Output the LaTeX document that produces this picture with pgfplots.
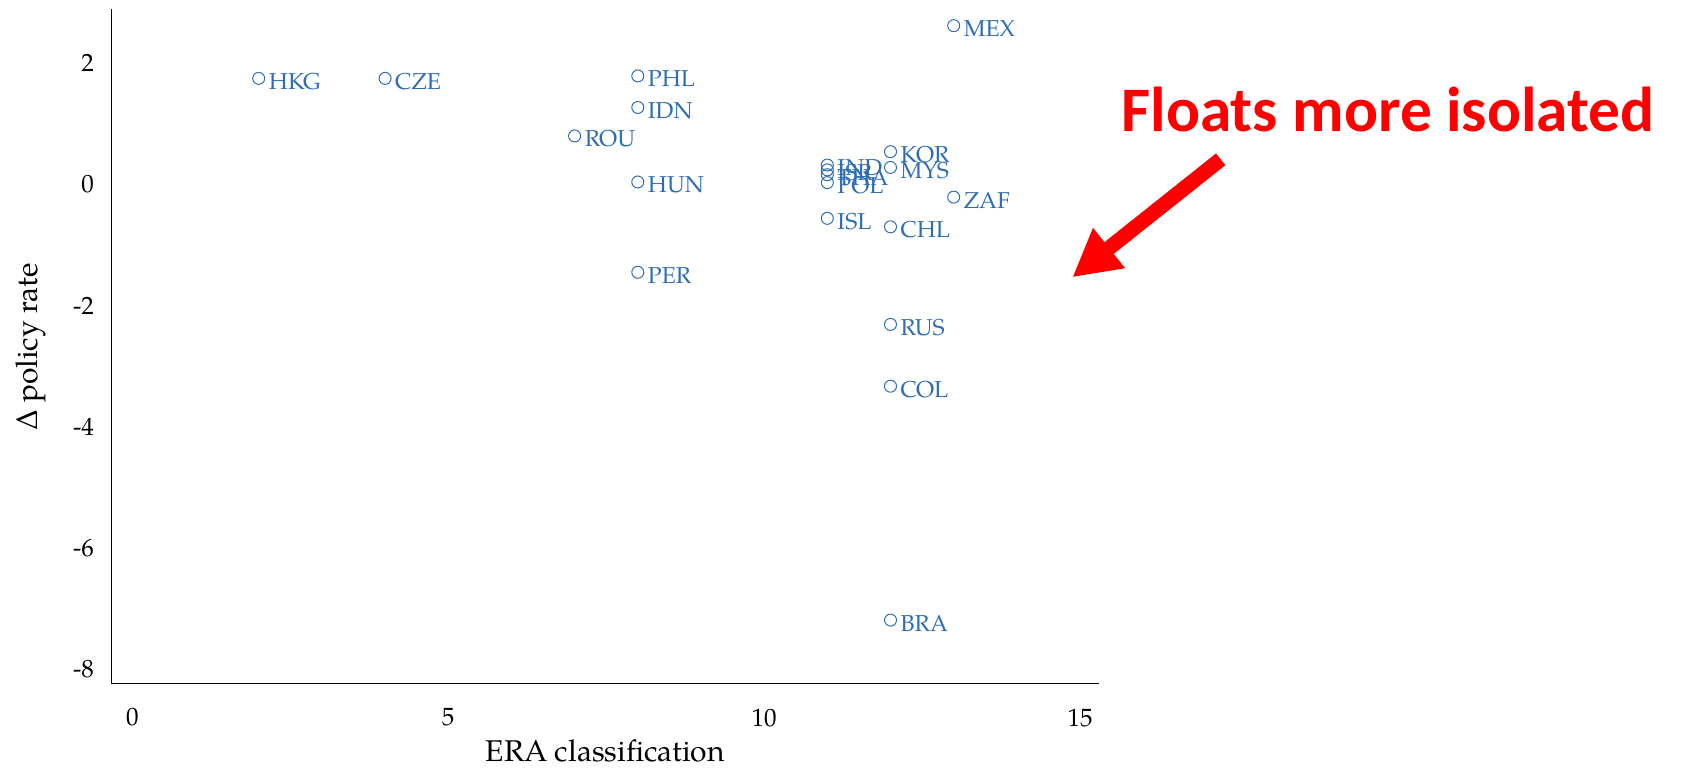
\documentclass[border=0pt]{standalone}
\usepackage{fontspec}
\setmainfont{TeX Gyre Pagella}
\newfontfamily\carlito{Carlito}
\usepackage{pgfplots}
\pgfplotsset{compat=1.18}
\usetikzlibrary{arrows.meta}
\definecolor{ptblue}{RGB}{46,109,180}
\definecolor{arrred}{RGB}{255,0,0}

\begin{document}
\begin{tikzpicture}
\useasboundingbox (-55.75pt,-43.15pt) rectangle (785.75pt,341.85pt);
\begin{axis}[
  scale only axis, width=493.75pt, height=337.5pt,
  xmin=-0.33, xmax=15.3, ymin=-8.24, ymax=2.9,
  axis x line*=bottom, axis y line*=left,
  axis line style={black, line width=0.6pt},
  xtick={0,5,10,15}, ytick={-8,-6,-4,-2,0,2},
  major tick length=0pt,
  tick label style={font=\fontsize{12.5}{14}\selectfont},
  /pgf/number format/assume math mode=true,
  xticklabel style={yshift=-9pt},
  yticklabel style={xshift=-5.3pt},
  xlabel={ERA classification},
  ylabel={Δ policy rate},
  label style={font=\fontsize{15}{17}\selectfont},
  xlabel style={at={(axis description cs:0.5,-0.1156)}, anchor=base},
  ylabel style={at={(axis description cs:-0.082,0.5)}, anchor=center},
  clip=false,
]
\addplot[only marks, mark=o, mark size=3pt, color=ptblue,
  mark options={line width=0.5pt},
  nodes near coords, point meta=explicit symbolic,
  nodes near coords style={anchor=west, text=ptblue, xshift=1.5pt, yshift=-1.5pt,
    font=\fontsize{11.5}{13}\selectfont}]
  table[meta=label] {
x y label
2 1.75 HKG
4 1.75 CZE
8 1.79 PHL
8 1.27 IDN
7 0.80 ROU
8 0.04 HUN
8 -1.45 PER
13 2.62 MEX
12 0.54 KOR
12 0.28 MYS
13 -0.21 ZAF
12 -0.70 CHL
11 -0.56 ISL
12 -2.31 RUS
12 -3.33 COL
12 -7.19 BRA
11 0.32 IND
11 0.24 ISR
11 0.16 THA
11 0.03 POL
};
\end{axis}
\node[anchor=base west, inner sep=0pt, text=arrred,
  font=\carlito\bfseries\fontsize{31.7}{36}\selectfont]
  at (504.75pt,276pt) {Floats more isolated};
\draw[arrred, line width=7.5pt, -{Triangle[length=23.5pt, width=24pt]}]
  (554.6pt,262.2pt) -- (480.4pt,203.2pt);
\end{tikzpicture}
\end{document}
